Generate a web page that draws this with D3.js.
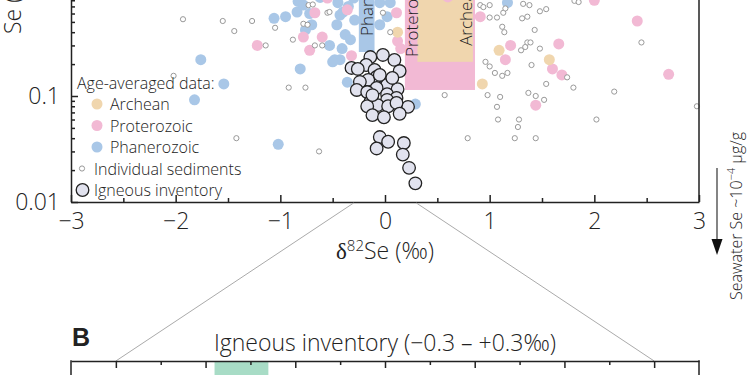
<!DOCTYPE html>
<html>
<head>
<meta charset="utf-8">
<script src="https://d3js.org/d3.v7.min.js"></script>
<style>
  body { margin: 0; background: #fff; }
  text { font-family: "Open Sans", sans-serif; font-weight: 300; fill: #222; }
</style>
</head>
<body>
<div id="chart"></div>
<script>
// tick values
var xTicks = [-3, -2, -1, 0, 1, 2, 3];
var xMinor = [-2.5, -1.5, -0.5, 0.5, 1.5, 2.5];
var yTicks = [0.01, 0.1, 1];
var yMinor = [0.02, 0.03, 0.04, 0.05, 0.06, 0.07, 0.08, 0.09, 0.2, 0.3, 0.4, 0.5, 0.6, 0.7, 0.8, 0.9, 2, 3, 4, 5, 6, 7, 8, 9];
var bTicks = [-0.3, -0.2, -0.1, 0, 0.1, 0.2, 0.3];
var bMinor = [-0.25, -0.15, -0.05, 0.05, 0.15, 0.25];

// points: [d82Se, Se]
var archean = [[0.12, 0.40], [0.93, 0.13], [1.09, 0.27], [1.57, 0.22]];

var proterozoic = [[-1.22, 0.30], [-0.67, 0.61], [-0.36, 0.65], [-0.60, 0.36], [-0.78, 0.36],
  [-0.72, 0.27], [-0.32, 0.24], [0.11, 0.61], [0.12, 0.33], [0.15, 0.28], [0.91, 0.56],
  [1.20, 0.30], [1.15, 0.22], [2.0, 0.80], [2.41, 0.51], [1.66, 0.31], [1.60, 0.18],
  [1.69, 0.158], [2.71, 0.16], [1.44, 0.082], [-0.55, 0.84], [0.60, 0.86]];

var phanerozoic = [[-1.76, 0.22], [-1.54, 0.13], [-1.82, 0.092], [-1.06, 0.54], [-0.95, 0.56],
  [-0.84, 0.62], [-0.81, 0.18], [-0.83, 0.78], [-0.78, 0.72], [-0.45, 0.76], [-0.35, 0.70],
  [-0.46, 0.47], [-0.38, 0.38], [-0.33, 0.34], [-0.29, 0.52], [-0.43, 0.58], [-0.48, 0.22],
  [-0.43, 0.22], [-0.50, 0.21], [-0.36, 0.135], [-0.76, 0.42], [-0.70, 0.47], [-0.41, 0.28],
  [-0.53, 0.30], [-0.05, 0.47], [0.02, 0.56], [-0.05, 0.76], [0.05, 0.76], [0.29, 0.084],
  [-1.02, 0.035], [1.17, 0.76], [-0.62, 0.85], [-0.30, 0.84], [-0.40, 0.62], [-0.72, 0.60]];

var sediments = [[-1.93, 0.53], [-1.55, 0.51], [-1.27, 0.51], [-1.44, 0.41], [-1.05, 0.44],
  [-0.88, 0.34], [-1.14, 0.30], [-2.02, 0.155], [-0.92, 0.12], [-0.76, 0.12], [-0.73, 0.72],
  [-0.69, 0.73], [-0.55, 0.61], [-0.53, 0.62], [-0.78, 0.48], [-0.74, 0.47], [-0.67, 0.30],
  [-0.60, 0.30], [-0.02, 0.61], [0.05, 0.40], [0.57, 0.102], [0.91, 0.72], [0.94, 0.69],
  [1.00, 0.72], [1.00, 0.55], [1.07, 0.55], [1.13, 0.61], [1.15, 0.67], [1.31, 0.54],
  [1.36, 0.56], [1.32, 0.74], [1.38, 0.72], [1.48, 0.63], [1.54, 0.66], [1.81, 0.79],
  [1.85, 0.77], [1.12, 0.45], [1.14, 0.40], [1.43, 0.42], [2.45, 0.32], [1.30, 0.27],
  [1.34, 0.29], [1.36, 0.32], [1.39, 0.32], [1.48, 0.28], [1.40, 0.196], [1.17, 0.165],
  [1.12, 0.155], [1.05, 0.165], [0.96, 0.21], [1.00, 0.19], [1.54, 0.13], [1.74, 0.15],
  [1.80, 0.12], [2.19, 0.11], [0.98, 0.102], [1.10, 0.098], [1.37, 0.107], [1.44, 0.10],
  [1.52, 0.092], [2.98, 0.08], [1.07, 0.079], [1.08, 0.06], [1.28, 0.06], [1.27, 0.051],
  [1.24, 0.040], [1.44, 0.040], [2.02, 0.06], [0.79, 0.040], [-1.42, 0.040], [-0.63, 0.030]];

var igneous = [[-0.02, 0.244], [0.09, 0.219], [-0.14, 0.233], [-0.18, 0.196], [-0.32, 0.184],
  [-0.26, 0.18], [-0.10, 0.176], [0.14, 0.172], [-0.08, 0.151], [-0.16, 0.142], [-0.24, 0.136],
  [0.02, 0.127], [-0.08, 0.119], [0.12, 0.116], [-0.27, 0.114], [-0.17, 0.109], [0.02, 0.104],
  [0.11, 0.096], [0.02, 0.092], [-0.14, 0.088], [-0.07, 0.082], [-0.17, 0.080], [0.03, 0.080],
  [0.22, 0.079], [0.11, 0.086], [-0.12, 0.066], [-0.01, 0.063], [0.14, 0.068], [-0.05, 0.041],
  [0.03, 0.037], [-0.08, 0.032], [0.18, 0.036], [0.17, 0.028], [0.23, 0.021], [0.29, 0.015],
  [-0.05, 0.158], [0.07, 0.148], [-0.12, 0.102]];

// age-averaged ranges
var boxNames = ["Phanerozoic", "Proterozoic", "Archean"];
var boxX = [[-0.25, -0.10], [0.19, 0.86], [0.31, 0.84]];
var boxY = [[0.26, 10], [0.114, 10], [0.21, 10]];

// panel B igneous band
var igneousBand = [-0.19, -0.13];

var colors = { Archean: "#f0d6ae", Proterozoic: "#f2b9d4", Phanerozoic: "#a9c7e7" };

var svg = d3.select("#chart").append("svg")
  .attr("width", 750).attr("height", 375);

var x = d3.scaleLinear().domain([-3, 3]).range([71, 699]);
var y = d3.scaleLog().domain([0.01, 10]).range([202, -116]);
var xB = d3.scaleLinear().domain([-0.35, 0.35]).range([71, 699]);

// boxes
var boxes = svg.append("g");
boxNames.forEach(function(n, i) {
  boxes.append("rect")
    .attr("x", x(boxX[i][0]))
    .attr("y", y(boxY[i][1]))
    .attr("width", x(boxX[i][1]) - x(boxX[i][0]))
    .attr("height", y(boxY[i][0]) - y(boxY[i][1]))
    .attr("fill", colors[n]);
});

function dots(data, color) {
  svg.append("g").selectAll("circle").data(data).enter().append("circle")
    .attr("cx", function(d) { return x(d[0]); })
    .attr("cy", function(d) { return y(d[1]); })
    .attr("r", 5.5)
    .attr("fill", color);
}
dots(phanerozoic, colors.Phanerozoic);
dots(proterozoic, colors.Proterozoic);
dots(archean, colors.Archean);

// box labels
svg.append("text").attr("transform", "translate(" + (x(-0.175) + 6) + "," + (y(boxY[0][0]) - 16) + ") rotate(-90)")
  .attr("font-size", 17).text("Phanerozoic");
svg.append("text").attr("transform", "translate(" + (x(boxX[1][0]) + 13) + "," + (y(boxY[1][0]) - 33) + ") rotate(-90)")
  .attr("font-size", 17).text("Proterozoic");
svg.append("text").attr("transform", "translate(" + (x(boxX[2][1]) - 1) + "," + (y(boxY[2][0]) - 16) + ") rotate(-90)")
  .attr("font-size", 17).text("Archean");

svg.append("g").selectAll("circle").data(sediments).enter().append("circle")
  .attr("cx", function(d) { return x(d[0]); })
  .attr("cy", function(d) { return y(d[1]); })
  .attr("r", 2.6)
  .attr("fill", "#fff").attr("stroke", "#999").attr("stroke-width", 1);

svg.append("g").selectAll("circle").data(igneous).enter().append("circle")
  .attr("cx", function(d) { return x(d[0]); })
  .attr("cy", function(d) { return y(d[1]); })
  .attr("r", 6.3)
  .attr("fill", "#e1e2ee").attr("stroke", "#222").attr("stroke-width", 1.3);

// axes
function styleAxis(g, fs) {
  g.attr("font-family", null).attr("font-size", null);
  g.selectAll("path, line").attr("stroke", "#222").attr("stroke-width", 1.5);
  g.selectAll("text").attr("font-size", fs).attr("fill", "#222");
}

svg.append("g").attr("transform", "translate(0,202)")
  .call(d3.axisBottom(x).tickValues(xTicks).tickSize(-7).tickSizeOuter(0).tickPadding(11).tickFormat(d3.format("~g")))
  .call(styleAxis, 23);
svg.append("g").attr("transform", "translate(0,202)")
  .call(d3.axisBottom(x).tickValues(xMinor).tickSize(-4).tickFormat(""))
  .call(styleAxis, 23)
  .select(".domain").remove();

svg.append("g").attr("transform", "translate(71,0)")
  .call(d3.axisLeft(y).tickValues(yTicks).tickSize(-7).tickSizeOuter(0).tickPadding(11).tickFormat(d3.format("~g")))
  .call(styleAxis, 23);
svg.append("g").attr("transform", "translate(71,0)")
  .call(d3.axisLeft(y).tickValues(yMinor).tickSize(-4).tickFormat(""))
  .call(styleAxis, 23)
  .select(".domain").remove();

// right frame
svg.append("line").attr("x1", 699).attr("x2", 699).attr("y1", y(10)).attr("y2", y(0.01))
  .attr("stroke", "#222").attr("stroke-width", 1.5);

// axis titles
var xt = svg.append("text").attr("x", x(0)).attr("y", 259).attr("text-anchor", "middle").attr("font-size", 23);
xt.append("tspan").attr("font-family", "Liberation Serif").style("font-family", "Liberation Serif").text("δ");
xt.append("tspan").attr("font-size", 15).attr("dy", -8).text("82");
xt.append("tspan").attr("dy", 8).text("Se (‰)");

svg.append("text").attr("transform", "translate(21,34) rotate(-90)").attr("font-size", 23).text("Se (μg/g)");

// legend
var leg = svg.append("g");
leg.append("text").attr("x", 77).attr("y", 88.5).attr("font-size", 16).text("Age-averaged data:");
["Archean", "Proterozoic", "Phanerozoic"].forEach(function(n, i) {
  var by = 110 + i * 21.5;
  leg.append("circle").attr("cx", 97).attr("cy", by - 6).attr("r", 5.5).attr("fill", colors[n]);
  leg.append("text").attr("x", 110).attr("y", by).attr("font-size", 16).text(n);
});
leg.append("circle").attr("cx", 82).attr("cy", 174.5 - 6).attr("r", 2.6)
  .attr("fill", "#fff").attr("stroke", "#999");
leg.append("text").attr("x", 94).attr("y", 174.5).attr("font-size", 16).text("Individual sediments");
leg.append("circle").attr("cx", 82.5).attr("cy", 196 - 6).attr("r", 6.3)
  .attr("fill", "#e1e2ee").attr("stroke", "#222").attr("stroke-width", 1.3);
leg.append("text").attr("x", 94).attr("y", 196).attr("font-size", 16).text("Igneous inventory");

// seawater annotation
svg.append("line").attr("x1", 717).attr("x2", 717).attr("y1", 168).attr("y2", 242)
  .attr("stroke", "#333").attr("stroke-width", 1.2);
svg.append("path").attr("d", "M711.5,239L722.5,239L717,255Z").attr("fill", "#111");
var sw = svg.append("text").attr("transform", "translate(742,300) rotate(-90)").attr("font-size", 16);
sw.append("tspan").text("Seawater Se ~10");
sw.append("tspan").attr("font-size", 11).attr("dy", -7).text("−4");
sw.append("tspan").attr("dy", 7).text(" μg/g");

// zoom lines to panel B
[-0.3, 0.3].forEach(function(v) {
  svg.append("line").attr("x1", x(v)).attr("y1", 203).attr("x2", xB(v)).attr("y2", 361)
    .attr("stroke", "#aaa").attr("stroke-width", 1);
});

// panel B
svg.append("rect").attr("x", xB(igneousBand[0])).attr("y", 361)
  .attr("width", xB(igneousBand[1]) - xB(igneousBand[0])).attr("height", 20)
  .attr("fill", "#a8dcc6");
svg.append("g").attr("transform", "translate(0,361)")
  .call(d3.axisTop(xB).tickValues(bTicks).tickSize(-7).tickSizeOuter(0).tickFormat(""))
  .call(styleAxis, 23);
svg.append("g").attr("transform", "translate(0,361)")
  .call(d3.axisTop(xB).tickValues(bMinor).tickSize(-4).tickFormat(""))
  .call(styleAxis, 23)
  .select(".domain").remove();
[71, 699].forEach(function(px) {
  svg.append("line").attr("x1", px).attr("x2", px).attr("y1", 360.25).attr("y2", 380)
    .attr("stroke", "#222").attr("stroke-width", 1.5);
});
svg.append("text").attr("x", 72).attr("y", 346)
  .style("font-family", "Liberation Sans").style("font-weight", 700).attr("font-size", 25)
  .text("B");
svg.append("text").attr("x", xB(0)).attr("y", 351).attr("text-anchor", "middle").attr("font-size", 23)
  .text("Igneous inventory (−0.3 – +0.3‰)");
</script>
</body>
</html>
